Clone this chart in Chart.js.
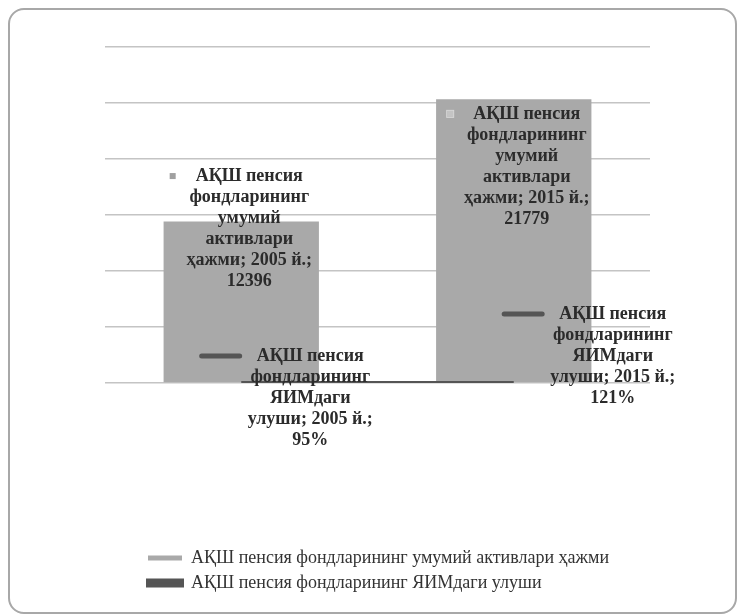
<!DOCTYPE html>
<html lang="uz">
<head>
    <meta charset="UTF-8">
    <title>АҚШ пенсия фондлари</title>
    <style>
        body {
            margin: 0;
            background: #ffffff;
        }
        .frame {
            position: absolute;
            left: 8px;
            top: 8px;
            width: 725px;
            height: 602px;
            border: 2px solid #a8a8a8;
            border-radius: 16px;
        }
        .chart-box {
            position: absolute;
            left: 0;
            top: 0;
            width: 739px;
            height: 616px;
        }
    </style>
    <script src="https://cdn.jsdelivr.net/npm/chart.js"></script>
</head>
<body>
    <div class="frame"></div>
    <div class="chart-box">
        <canvas id="pensionChart"></canvas>
    </div>

    <script>
        // Data
        const years = ['2005 й.', '2015 й.'];
        const assetsLabel = 'АҚШ пенсия фондларининг умумий активлари ҳажми';
        const shareLabel = 'АҚШ пенсия фондларининг ЯИМдаги улуши';
        const assets = [12396, 21779];        // млрд. доллар
        const shareOfGdp = [0.95, 1.21];      // 95%, 121%

        // Where each data label block sits, relative to its mark
        const labelOffsets = [
            [{ dx: 8, dy: 7 }, { dx: 13, dy: 67 }],     // bars
            [{ dx: 69, dy: 15 }, { dx: 99, dy: -27 }]   // line
        ];

        const labelFont = 'bold 18px "Liberation Serif", "Times New Roman", serif';
        const lineGap = 21;

        function labelLines(dsIndex, i) {
            if (dsIndex === 0) {
                return ['АҚШ пенсия', 'фондларининг', 'умумий', 'активлари',
                        'ҳажми; ' + years[i] + ';', String(assets[i])];
            }
            return ['АҚШ пенсия', 'фондларининг', 'ЯИМдаги',
                    'улуши; ' + years[i] + ';', Math.round(shareOfGdp[i] * 100) + '%'];
        }

        // Excel style data labels with a legend key in front
        const dataLabels = {
            id: 'dataLabels',
            afterDatasetsDraw(chart) {
                const ctx = chart.ctx;
                ctx.save();
                ctx.font = labelFont;
                ctx.textAlign = 'center';
                ctx.textBaseline = 'middle';
                chart.data.datasets.forEach((ds, d) => {
                    const meta = chart.getDatasetMeta(d);
                    meta.data.forEach((el, i) => {
                        const lines = labelLines(d, i);
                        const off = labelOffsets[d][i];
                        const cx = el.x + off.dx;
                        const cy = el.y + off.dy;
                        const y0 = cy - (lines.length - 1) / 2 * lineGap;
                        ctx.fillStyle = '#2b2b2b';
                        lines.forEach((t, k) => ctx.fillText(t, cx, y0 + k * lineGap));
                        const left = cx - ctx.measureText(lines[0]).width / 2;
                        if (d === 0) {
                            ctx.fillStyle = i === 0 ? '#a0a0a0' : '#c4c4c4';
                            ctx.fillRect(left - 26, y0 - 3, 6, 6);
                            if (i === 1) {
                                ctx.strokeStyle = '#d8d8d8';
                                ctx.lineWidth = 1;
                                ctx.strokeRect(left - 26.5, y0 - 3.5, 7, 7);
                            }
                        } else {
                            ctx.strokeStyle = '#555555';
                            ctx.lineWidth = 5;
                            ctx.lineCap = 'round';
                            ctx.beginPath();
                            ctx.moveTo(left - 55, y0);
                            ctx.lineTo(left - 17, y0);
                            ctx.stroke();
                        }
                    });
                });
                ctx.restore();
            }
        };

        // push the legend rows in from the left edge of the plot
        const legendShift = {
            id: 'legendShift',
            afterLayout(chart) {
                chart.legend.left += 36;
            }
        };

        const ctx = document.getElementById('pensionChart').getContext('2d');
        const chart = new Chart(ctx, {
            data: {
                labels: years,
                datasets: [{
                    type: 'bar',
                    label: assetsLabel,
                    data: assets,
                    backgroundColor: '#a9a9a9',
                    categoryPercentage: 1,
                    barPercentage: 0.57,
                    order: 2
                }, {
                    type: 'line',
                    label: shareLabel,
                    data: shareOfGdp,
                    borderColor: '#555555',
                    backgroundColor: '#555555',
                    borderWidth: 4,
                    pointRadius: 0,
                    order: 1
                }]
            },
            options: {
                responsive: true,
                maintainAspectRatio: false,
                animation: false,
                layout: {
                    padding: { left: 105, right: 89, top: 47, bottom: 14 }
                },
                scales: {
                    x: {
                        ticks: { display: false },
                        grid: { display: false },
                        border: { display: false },
                        afterFit: (s) => { s.height = 159; }
                    },
                    y: {
                        min: 0,
                        max: 25800,
                        ticks: { display: false, stepSize: 4300 },
                        grid: { color: '#c4c4c4', lineWidth: 1.5, drawTicks: false },
                        border: { display: false }
                    }
                },
                plugins: {
                    legend: {
                        position: 'bottom',
                        align: 'start',
                        labels: {
                            boxWidth: 34,
                            boxHeight: 5,
                            padding: 7,
                            color: '#333333',
                            font: { family: '"Liberation Serif", "Times New Roman", serif', size: 18 },
                            sort: (a, b) => a.datasetIndex - b.datasetIndex
                        }
                    },
                    tooltip: { enabled: false }
                }
            },
            plugins: [dataLabels, legendShift]
        });
    </script>
</body>
</html>
